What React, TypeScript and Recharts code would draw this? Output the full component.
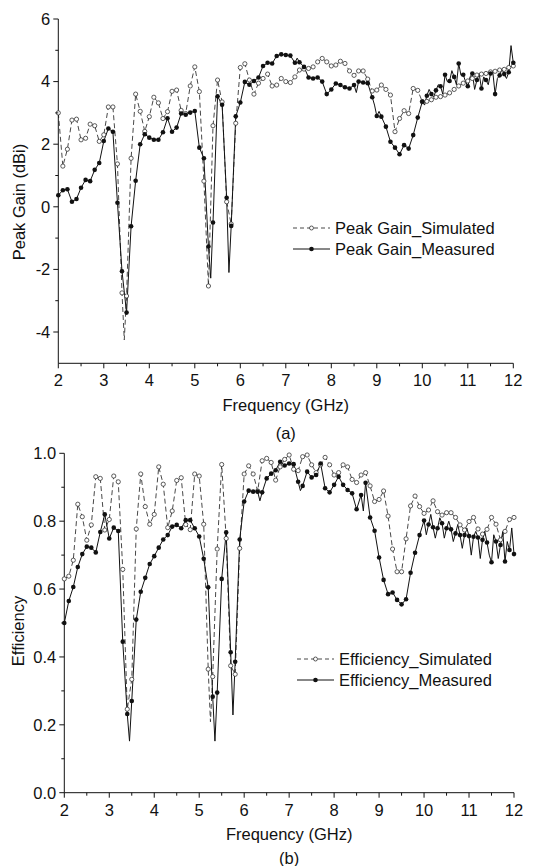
import React from 'react';
import { LineChart, Line, XAxis, YAxis, Legend } from 'recharts';

// Frequency grid (GHz) of the marked points
const FREQ = [
  2, 2.1, 2.2, 2.3, 2.4, 2.5, 2.6, 2.7, 2.8, 2.9,
  3, 3.1, 3.2, 3.3, 3.4, 3.5, 3.6, 3.7, 3.8, 3.9,
  4, 4.1, 4.2, 4.3, 4.4, 4.5, 4.6, 4.7, 4.8, 4.9,
  5, 5.1, 5.2, 5.3, 5.4, 5.5, 5.6, 5.7, 5.8, 5.9,
  6, 6.1, 6.2, 6.3, 6.4, 6.5, 6.6, 6.7, 6.8, 6.9,
  7, 7.1, 7.2, 7.3, 7.4, 7.5, 7.6, 7.7, 7.8, 7.9,
  8, 8.1, 8.2, 8.3, 8.4, 8.5, 8.6, 8.7, 8.8, 8.9,
  9, 9.1, 9.2, 9.3, 9.4, 9.5, 9.6, 9.7, 9.8, 9.9,
  10, 10.1, 10.2, 10.3, 10.4, 10.5, 10.6, 10.7, 10.8, 10.9,
  11, 11.1, 11.2, 11.3, 11.4, 11.5, 11.6, 11.7, 11.8, 11.9,
  12,
];

// (a) Peak gain, dBi
const GAIN_SIM = [
  3.0, 1.3, 1.84, 2.77, 2.8, 2.14, 2.19, 2.64, 2.59, 2.09,
  2.3, 3.19, 3.19, 1.37, -2.75, -2.85, 1.55, 3.6, 3.05, 2.41,
  2.88, 3.5, 3.32, 2.82, 3.04, 3.69, 3.73, 3.08, 2.98, 3.86,
  4.47, 3.68, 0.82, -2.53, 2.59, 4.05, 3.35, 0.16, -0.55, 2.67,
  4.45, 4.57, 4.05, 3.6, 3.95, 4.1, 4.24, 3.86, 3.89, 4.1,
  4.0, 3.97, 4.15, 4.37, 4.4, 4.42, 4.47, 4.63, 4.74, 4.63,
  4.5, 4.53, 4.65, 4.58, 4.34, 4.2, 4.34, 4.34, 4.08, 3.7,
  3.73, 3.89, 3.75, 3.57, 2.4, 2.82, 3.07, 2.98, 3.78, 3.72,
  3.36, 3.37, 3.42, 3.5, 3.52, 3.57, 3.64, 3.75, 3.86, 3.95,
  4.02, 4.1, 4.21, 4.24, 4.26, 4.31, 4.33, 4.37, 4.39, 4.45,
  4.5,
];
const GAIN_MEAS = [
  0.37, 0.53, 0.56, 0.16, 0.25, 0.61, 0.86, 0.82, 1.18, 1.4,
  2.1, 2.5, 2.4, 0.13, -2.06, -3.38, -0.62, 0.83, 2.0, 2.32,
  2.21, 2.14, 2.14, 2.38, 2.83, 2.4, 2.53, 2.98, 2.94, 3.01,
  3.06, 1.89, 1.55, -1.27, -0.5, 3.53, 3.26, 0.29, -0.61, 2.89,
  3.33, 3.99, 3.9, 4.02, 4.13, 4.5, 4.6, 4.58, 4.82, 4.87,
  4.85, 4.83, 4.6, 4.62, 4.47, 4.13, 4.1, 4.13, 4.0, 3.6,
  3.75, 3.94, 3.89, 3.82, 3.78, 3.89, 4.0, 3.97, 3.95, 3.5,
  2.9, 2.88, 2.56, 2.08, 1.89, 1.68, 1.97, 1.86, 2.29, 2.85,
  3.36, 3.55, 3.6, 3.72, 3.85, 4.22, 4.02, 4.15, 4.58, 4.22,
  3.85, 4.26, 4.05, 3.78, 4.05, 4.26, 3.6, 4.2, 4.24, 4.3,
  4.6,
];
// unmarked intermediate samples [GHz, value]
const GAIN_SIM_EXTRA = [[3.45, -4.25]];
const GAIN_MEAS_EXTRA = [
  [5.35, -2.28], [5.75, -2.1], [7.25, 4.75], [8.55, 3.65], [8.95, 3.25], [9.05, 3.05],
  [10.05, 3.25], [10.15, 3.75], [10.25, 3.5], [10.35, 3.9], [10.45, 3.6], [10.55, 4.0],
  [10.65, 4.35], [10.75, 3.9], [10.85, 4.2], [10.95, 4.0], [11.05, 4.15], [11.15, 3.75],
  [11.25, 4.25], [11.35, 4.15], [11.45, 3.9], [11.55, 4.3], [11.65, 4.1], [11.75, 4.4],
  [11.85, 4.1], [11.95, 5.15],
];

// (b) Efficiency
const EFF_SIM = [
  0.63, 0.638, 0.685, 0.85, 0.813, 0.744, 0.789, 0.931, 0.926, 0.774,
  0.805, 0.933, 0.916, 0.658, 0.246, 0.334, 0.777, 0.939, 0.843, 0.791,
  0.82, 0.96, 0.909, 0.781, 0.83, 0.92, 0.928, 0.79, 0.775, 0.939,
  0.933, 0.791, 0.364, 0.342, 0.718, 0.967, 0.749, 0.374, 0.349, 0.72,
  0.939, 0.963, 0.939, 0.889, 0.978, 0.985, 0.973, 0.921, 0.96, 0.982,
  0.995, 0.953, 0.949, 0.99, 0.995, 0.966, 0.943, 0.966, 0.988, 0.966,
  0.936, 0.943, 0.966, 0.96, 0.923, 0.914, 0.936, 0.943, 0.904, 0.858,
  0.864, 0.889, 0.815, 0.718, 0.651, 0.651, 0.748, 0.845, 0.874, 0.843,
  0.823, 0.833, 0.86, 0.828, 0.818, 0.825, 0.825, 0.811, 0.789, 0.774,
  0.799, 0.811, 0.777, 0.762, 0.776, 0.811, 0.791, 0.745, 0.77, 0.805,
  0.811,
];
const EFF_MEAS = [
  0.5, 0.565, 0.606, 0.665, 0.703, 0.725, 0.722, 0.708, 0.768, 0.82,
  0.749, 0.781, 0.771, 0.445, 0.232, 0.27, 0.51, 0.592, 0.633, 0.674,
  0.697, 0.722, 0.746, 0.759, 0.784, 0.789, 0.779, 0.803, 0.803, 0.779,
  0.755, 0.689, 0.605, 0.283, 0.295, 0.63, 0.767, 0.414, 0.386, 0.746,
  0.858, 0.89, 0.887, 0.887, 0.885, 0.926, 0.94, 0.95, 0.975, 0.964,
  0.97, 0.968, 0.916, 0.904, 0.946, 0.929, 0.936, 0.97, 0.897, 0.885,
  0.907, 0.931, 0.907, 0.892, 0.882, 0.835, 0.877, 0.913, 0.811, 0.772,
  0.693, 0.627, 0.585, 0.59, 0.568, 0.555, 0.57, 0.648, 0.707, 0.759,
  0.802, 0.79, 0.782, 0.779, 0.794, 0.779, 0.776, 0.764, 0.759, 0.759,
  0.756, 0.754, 0.752, 0.745, 0.737, 0.679, 0.74, 0.73, 0.681, 0.715,
  0.703,
];
const EFF_SIM_EXTRA = [[5.25, 0.209]];
const EFF_MEAS_EXTRA = [
  [3.45, 0.152], [5.35, 0.152], [5.75, 0.229], [6.35, 0.86], [7.25, 0.89], [8.65, 0.83],
  [10.05, 0.76], [10.15, 0.82], [10.25, 0.75], [10.35, 0.81], [10.45, 0.75], [10.55, 0.8],
  [10.65, 0.74], [10.75, 0.79], [10.85, 0.72], [10.95, 0.78], [11.05, 0.7], [11.15, 0.77],
  [11.25, 0.69], [11.35, 0.77], [11.45, 0.7], [11.55, 0.76], [11.65, 0.69], [11.75, 0.77],
  [11.85, 0.74], [11.95, 0.78],
];

// Tick values
const X_TICKS = [2, 2.5, 3, 3.5, 4, 4.5, 5, 5.5, 6, 6.5, 7, 7.5, 8, 8.5, 9, 9.5, 10, 10.5, 11, 11.5, 12];
const X_LABELS = [2, 3, 4, 5, 6, 7, 8, 9, 10, 11, 12];
const GAIN_TICKS = [-4, -3, -2, -1, 0, 1, 2, 3, 4, 5, 6];
const GAIN_LABELS = [-4, -2, 0, 2, 4, 6];
const EFF_TICKS = [0, 0.1, 0.2, 0.3, 0.4, 0.5, 0.6, 0.7, 0.8, 0.9, 1.0];
const EFF_LABELS = [0, 0.2, 0.4, 0.6, 0.8, 1.0];

const SERIES_A = ['Peak Gain_Simulated', 'Peak Gain_Measured'];
const SERIES_B = ['Efficiency_Simulated', 'Efficiency_Measured'];

const FONT = '"Liberation Sans", Arial, Helvetica, sans-serif';
const INK = '#111';
const SIM_INK = '#333';
const FS = 16.5;

type Row = { f: number; sim: number | null; meas: number | null; simMark: boolean; measMark: boolean };

function buildRows(sim: number[], meas: number[], simExtra: number[][], measExtra: number[][]): Row[] {
  const map = new Map<number, Row>();
  const get = (f: number) => {
    const k = Math.round(f * 1000);
    let r = map.get(k);
    if (!r) {
      r = { f: k / 1000, sim: null, meas: null, simMark: false, measMark: false };
      map.set(k, r);
    }
    return r;
  };
  FREQ.forEach((f, i) => {
    const r = get(f);
    r.sim = sim[i];
    r.simMark = true;
    r.meas = meas[i];
    r.measMark = true;
  });
  simExtra.forEach(([f, v]) => { get(f).sim = v; });
  measExtra.forEach(([f, v]) => { get(f).meas = v; });
  return Array.from(map.values()).sort((a, b) => a.f - b.f);
}

const gainRows = buildRows(GAIN_SIM, GAIN_MEAS, GAIN_SIM_EXTRA, GAIN_MEAS_EXTRA);
const effRows = buildRows(EFF_SIM, EFF_MEAS, EFF_SIM_EXTRA, EFF_MEAS_EXTRA);

const simDot = (p: any) => {
  const key = `s${p.index}`;
  if (!p.payload || !p.payload.simMark || p.cx == null || p.cy == null || p.value == null) return <g key={key} />;
  return <circle key={key} cx={p.cx} cy={p.cy} r={2.1} fill="#fff" stroke={SIM_INK} strokeWidth={0.8} />;
};
const measDot = (p: any) => {
  const key = `m${p.index}`;
  if (!p.payload || !p.payload.measMark || p.cx == null || p.cy == null || p.value == null) return <g key={key} />;
  return <circle key={key} cx={p.cx} cy={p.cy} r={2.3} fill={INK} stroke="none" />;
};

const TS = 5;

function makeXTick(tm: number) {
  return (props: any) => {
    const { x, y, payload } = props;
    const v = payload.value;
    const major = X_LABELS.some((l) => Math.abs(l - v) < 1e-6);
    const ay = y - TS - tm;
    return (
      <g>
        <line x1={x} x2={x} y1={ay} y2={ay + (major ? 5 : 3)} stroke={INK} strokeWidth={1} />
        {major && (
          <text x={x} y={y} dy="0.71em" textAnchor="middle" fontSize={FS} fontFamily={FONT} fill={INK}>
            {v}
          </text>
        )}
      </g>
    );
  };
}

function makeYTick(tm: number, labels: number[], fmt: (v: number) => string) {
  return (props: any) => {
    const { x, y, payload } = props;
    const v = payload.value;
    const major = labels.some((l) => Math.abs(l - v) < 1e-6);
    const ax = x + TS + tm;
    return (
      <g>
        <line x1={ax - (major ? 5 : 3)} x2={ax} y1={y} y2={y} stroke={INK} strokeWidth={1} />
        {major && (
          <text x={x} y={y} dy="0.355em" textAnchor="end" fontSize={FS} fontFamily={FONT} fill={INK}>
            {fmt(v)}
          </text>
        )}
      </g>
    );
  };
}

function xLabel(caption: string, titleDy: number, capDy: number) {
  return (props: any) => {
    const vb = props.viewBox || {};
    const cx = (vb.x || 0) + (vb.width || 0) / 2;
    const y0 = vb.y || 0;
    return (
      <g>
        <text x={cx} y={y0 + titleDy} textAnchor="middle" fontSize={FS} fontFamily={FONT} fill={INK}>
          Frequency (GHz)
        </text>
        <text x={cx} y={y0 + capDy} textAnchor="middle" fontSize={FS} fontFamily={FONT} fill={INK}>
          {caption}
        </text>
      </g>
    );
  };
}

function yLabel(text: string, bx: number, cy: number) {
  return () => (
    <text
      x={0}
      y={0}
      transform={`translate(${bx},${cy}) rotate(-90)`}
      textAnchor="middle"
      fontSize={FS}
      fontFamily={FONT}
      fill={INK}
    >
      {text}
    </text>
  );
}

function LegendBox({ names }: { names: string[] }) {
  return (
    <svg width={240} height={48} style={{ display: 'block', overflow: 'visible' }}>
      <line x1={3} x2={40} y1={13} y2={13} stroke={SIM_INK} strokeWidth={0.9} strokeDasharray="4 3" />
      <circle cx={21.5} cy={13} r={2} fill="#fff" stroke={SIM_INK} strokeWidth={0.8} />
      <text x={45} y={18.5} fontSize={FS} fontFamily={FONT} fill={INK}>{names[0]}</text>
      <line x1={3} x2={40} y1={34} y2={34} stroke={INK} strokeWidth={1} />
      <circle cx={21.5} cy={34} r={2.3} fill={INK} />
      <text x={45} y={39.5} fontSize={FS} fontFamily={FONT} fill={INK}>{names[1]}</text>
    </svg>
  );
}

export default function App() {
  return (
    <div
      style={{
        position: 'absolute',
        left: 0,
        top: 0,
        width: 534,
        height: 866,
        background: '#fff',
        fontFamily: FONT,
        overflow: 'hidden',
      }}
    >
      <div style={{ position: 'absolute', left: 0, top: 0 }}>
        <LineChart width={534} height={448} data={gainRows} margin={{ top: 19, right: 20.7, bottom: 0, left: 0 }}>
          <XAxis
            dataKey="f"
            type="number"
            domain={[2, 12]}
            ticks={X_TICKS}
            interval={0}
            height={84.7}
            tickSize={TS}
            tickMargin={6}
            tickLine={false}
            tick={makeXTick(6)}
            axisLine={{ stroke: INK, strokeWidth: 1 }}
            label={xLabel('(a)', 47.5, 75.4)}
          />
          <YAxis
            type="number"
            domain={[-5, 6]}
            ticks={GAIN_TICKS}
            interval={0}
            width={58.3}
            tickSize={TS}
            tickMargin={3}
            tickLine={false}
            tick={makeYTick(3, GAIN_LABELS, (v) => String(v))}
            axisLine={{ stroke: INK, strokeWidth: 1 }}
            label={yLabel('Peak Gain (dBi)', 25, 202)}
          />
          <Legend
            layout="vertical"
            align="center"
            verticalAlign="middle"
            wrapperStyle={{ left: 290, top: 215, width: 240, height: 48 }}
            content={() => <LegendBox names={SERIES_A} />}
          />
          <Line
            dataKey="sim"
            name={SERIES_A[0]}
            type="linear"
            stroke={SIM_INK}
            strokeWidth={0.9}
            strokeDasharray="5 3"
            dot={simDot}
            activeDot={false}
            connectNulls
            isAnimationActive={false}
          />
          <Line
            dataKey="meas"
            name={SERIES_A[1]}
            type="linear"
            stroke={INK}
            strokeWidth={1}
            dot={measDot}
            activeDot={false}
            connectNulls
            isAnimationActive={false}
          />
        </LineChart>
      </div>
      <div style={{ position: 'absolute', left: 0, top: 440 }}>
        <LineChart width={534} height={426} data={effRows} margin={{ top: 13.3, right: 20, bottom: 0, left: 0 }}>
          <XAxis
            dataKey="f"
            type="number"
            domain={[2, 12]}
            ticks={X_TICKS}
            interval={0}
            height={73.3}
            tickSize={TS}
            tickMargin={7}
            tickLine={false}
            tick={makeXTick(7)}
            axisLine={{ stroke: INK, strokeWidth: 1 }}
            label={xLabel('(b)', 47.3, 71)}
          />
          <YAxis
            type="number"
            domain={[0, 1]}
            ticks={EFF_TICKS}
            interval={0}
            width={64.3}
            tickSize={TS}
            tickMargin={3}
            tickLine={false}
            tick={makeYTick(3, EFF_LABELS, (v) => v.toFixed(1))}
            axisLine={{ stroke: INK, strokeWidth: 1 }}
            label={yLabel('Efficiency', 24, 191)}
          />
          <Legend
            layout="vertical"
            align="center"
            verticalAlign="middle"
            wrapperStyle={{ left: 293.5, top: 206, width: 240, height: 48 }}
            content={() => <LegendBox names={SERIES_B} />}
          />
          <Line
            dataKey="sim"
            name={SERIES_B[0]}
            type="linear"
            stroke={SIM_INK}
            strokeWidth={0.9}
            strokeDasharray="5 3"
            dot={simDot}
            activeDot={false}
            connectNulls
            isAnimationActive={false}
          />
          <Line
            dataKey="meas"
            name={SERIES_B[1]}
            type="linear"
            stroke={INK}
            strokeWidth={1}
            dot={measDot}
            activeDot={false}
            connectNulls
            isAnimationActive={false}
          />
        </LineChart>
      </div>
    </div>
  );
}
